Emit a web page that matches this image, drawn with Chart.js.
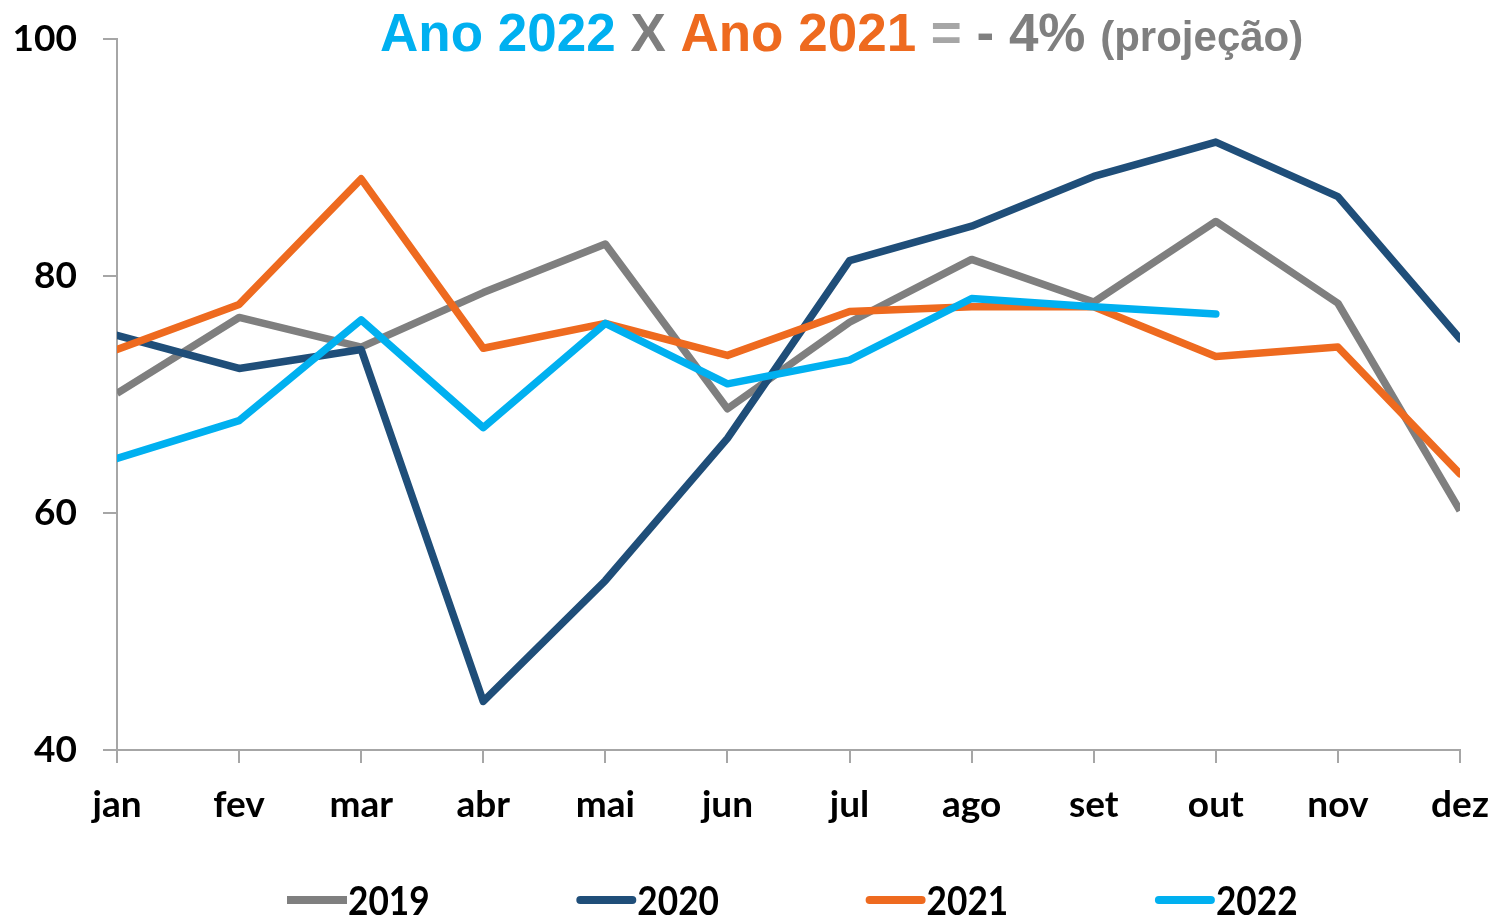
<!DOCTYPE html>
<html lang="pt">
<head>
<meta charset="utf-8">
<title>Ano 2022 X Ano 2021</title>
<script src="https://cdn.jsdelivr.net/npm/chart.js@4.4.1/dist/chart.umd.min.js"></script>
<style>
  html, body { margin: 0; padding: 0; background: #fff; }
  #wrap { width: 1498px; height: 922px; }
</style>
</head>
<body>
<div id="wrap"><canvas id="chart" width="1498" height="922"></canvas></div>
<script>
// === Dados ===
const meses = ["jan", "fev", "mar", "abr", "mai", "jun", "jul", "ago", "set", "out", "nov", "dez"];
const anos = ["2019", "2020", "2021", "2022"];
const serie2019 = [70.1, 76.5, 74.0, 78.6, 82.7, 68.8, 76.1, 81.4, 77.8, 84.6, 77.7, 60.2];
const serie2020 = [75.0, 72.2, 73.8, 44.1, 54.3, 66.3, 81.3, 84.2, 88.4, 91.3, 86.7, 74.7];
const serie2021 = [73.8, 77.6, 88.2, 73.9, 76.0, 73.3, 77.0, 77.4, 77.4, 73.2, 74.0, 63.3];
const serie2022 = [64.6, 67.8, 76.3, 67.2, 76.0, 70.9, 72.9, 78.1, 77.4, 76.8];
const yTicks = [40, 60, 80, 100];

const cores = ["#7f7f7f", "#1f4e79", "#ee6a1f", "#00b0f0"];
const series = [serie2019, serie2020, serie2021, serie2022];

// === Titulo em varias cores ===
const tituloPartes = [
  { text: "Ano 2022 ", color: "#00b0f0", size: 53 },
  { text: "X ", color: "#7f7f7f", size: 53 },
  { text: "Ano 2021 ", color: "#ee6a1f", size: 53 },
  { text: "= ", color: "#a6a6a6", size: 53 },
  { text: "- 4% ", color: "#7f7f7f", size: 53 },
  { text: "(projeção)", color: "#7f7f7f", size: 42 }
];

const tituloPlugin = {
  id: "tituloMulti",
  afterDraw(chart) {
    const ctx = chart.ctx;
    let x = 380;
    const y = 51;
    ctx.save();
    ctx.textBaseline = "alphabetic";
    ctx.textAlign = "left";
    tituloPartes.forEach(p => {
      ctx.font = `bold ${p.size}px "Liberation Sans", Arial, sans-serif`;
      ctx.fillStyle = p.color;
      ctx.fillText(p.text, x, y);
      x += ctx.measureText(p.text).width;
    });
    ctx.restore();
  }
};

// === Legenda embaixo ===
const legendaPlugin = {
  id: "legendaLinhas",
  afterDraw(chart) {
    const ctx = chart.ctx;
    const y = 900;
    ctx.save();
    chart.data.datasets.forEach((ds, i) => {
      const x0 = 287 + i * 289.3;
      ctx.strokeStyle = ds.borderColor;
      ctx.lineWidth = 8;
      ctx.lineCap = i === 0 ? "butt" : "round";
      ctx.beginPath();
      ctx.moveTo(x0 + (i === 0 ? 0 : 4), y);
      ctx.lineTo(x0 + (i === 0 ? 60 : 56), y);
      ctx.stroke();

      ctx.save();
      ctx.translate(x0 + 61, y);
      ctx.scale(0.88, 1);
      ctx.font = 'bold 40px Lato, "Open Sans", sans-serif';
      ctx.fillStyle = "#000";
      ctx.textBaseline = "middle";
      ctx.fillText(ds.label, 0, 2);
      ctx.restore();
    });
    ctx.restore();
  }
};

const fonteEixo = { family: 'Lato, "Open Sans", sans-serif', size: 37, weight: "bold" };

new Chart(document.getElementById("chart"), {
  type: "line",
  data: {
    labels: meses,
    datasets: anos.map((ano, i) => ({
      label: ano,
      data: series[i],
      borderColor: cores[i],
      backgroundColor: cores[i],
      borderWidth: 7.5,
      borderCapStyle: i === 0 ? "butt" : "round",
      borderJoinStyle: "round",
      pointRadius: 0,
      pointHoverRadius: 0,
      tension: 0,
      fill: false,
      order: 3 - i,
      clip: { left: 0, right: 0, top: 10, bottom: 10 }
    }))
  },
  options: {
    responsive: false,
    animation: false,
    events: [],
    layout: { padding: { left: 0, right: 38, top: 39, bottom: 72 } },
    plugins: {
      legend: { display: false },
      title: { display: false },
      tooltip: { enabled: false }
    },
    scales: {
      x: {
        type: "category",
        offset: false,
        grid: { display: true, drawOnChartArea: false, drawTicks: true, tickLength: 13, color: "#a6a6a6", lineWidth: 2 },
        border: { display: true, color: "#a6a6a6", width: 2 },
        ticks: { color: "#000", font: fonteEixo, padding: 20, maxRotation: 0, autoSkip: false },
        afterFit(scale) {
          scale.height = 100;
          scale.paddingLeft = 0;
          scale.paddingRight = 0;
        }
      },
      y: {
        min: 40,
        max: 100,
        afterBuildTicks(scale) { scale.ticks = yTicks.map(v => ({ value: v })); },
        grid: { display: true, drawOnChartArea: false, drawTicks: true, tickLength: 14, color: "#a6a6a6", lineWidth: 2 },
        border: { display: true, color: "#a6a6a6", width: 2 },
        ticks: { color: "#000", font: fonteEixo, padding: 26 },
        afterFit(scale) {
          scale.width = 117;
          scale.paddingTop = 0;
          scale.paddingBottom = 0;
        }
      }
    }
  },
  plugins: [tituloPlugin, legendaPlugin]
});
</script>
</body>
</html>
